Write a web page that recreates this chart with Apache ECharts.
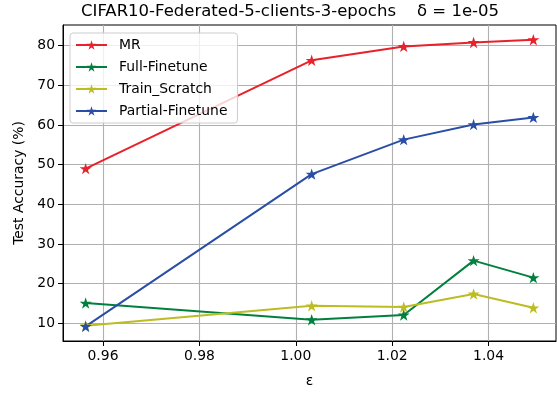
<!DOCTYPE html>
<html>
<head>
<meta charset="utf-8">
<script src="https://cdn.jsdelivr.net/npm/echarts@6/dist/echarts.min.js"></script>
<style>
  html, body { margin: 0; padding: 0; background: #fff; }
  #main { width: 557px; height: 393px; }
</style>
</head>
<body>
<div id="main"></div>
<script>
// data
var epsilon = [0.9564, 1.0033, 1.0224, 1.0369, 1.0493];
var mr = [49.0, 76.3, 79.8, 80.8, 81.5];
var fullFinetune = [15.1, 10.9, 12.1, 25.8, 21.5];
var trainScratch = [9.4, 14.4, 14.1, 17.4, 13.9];
var partialFinetune = [9.2, 47.6, 56.3, 60.1, 61.9];
var xTicks = [0.96, 0.98, 1.00, 1.02, 1.04];
var yTicks = [10, 20, 30, 40, 50, 60, 70, 80];

var star = 'path://M100 0 L122.45 69.1 L195.1 69.1 L136.3 111.8 L158.8 180.9 L100 138.2 L41.2 180.9 L63.7 111.8 L4.9 69.1 L77.55 69.1 Z';
var font = 'DejaVu Sans';

function pairs(xs, ys) {
  return xs.map(function (x, i) { return [x, ys[i]]; });
}

function makeSeries(name, color, ys) {
  return {
    name: name,
    type: 'line',
    data: pairs(epsilon, ys),
    symbol: star,
    symbolSize: 12,
    symbolKeepAspect: true,
    lineStyle: { color: color, width: 2 },
    itemStyle: { color: color },
    emphasis: { disabled: true },
    animation: false
  };
}

var chart = echarts.init(document.getElementById('main'));
var option = {
  animation: false,
  title: {
    text: 'CIFAR10-Federated-5-clients-3-epochs    δ = 1e-05',
    left: 81,
    top: 3,
    padding: 0,
    textStyle: { fontFamily: font, fontSize: 16.5, fontWeight: 'normal', color: '#000' }
  },
  grid: {
    left: 63, right: 1, top: 25, bottom: 47,
    show: true, borderColor: '#000', borderWidth: 1
  },
  legend: {
    orient: 'vertical',
    left: 70,
    top: 33,
    width: 160,
    padding: [5, 10, 5, 5],
    itemGap: 8,
    itemWidth: 31,
    itemHeight: 12,
    backgroundColor: 'rgba(255,255,255,0.8)',
    borderColor: '#cccccc',
    borderWidth: 1,
    borderRadius: 3,
    textStyle: { fontFamily: font, fontSize: 13.9, color: '#000', lineHeight: 14, padding: [0, 0, 0, 7] },
    data: ['MR', 'Full-Finetune', 'Train_Scratch', 'Partial-Finetune']
  },
  xAxis: {
    type: 'value',
    min: 0.9517,
    max: 1.0540,
    name: 'ε',
    nameLocation: 'middle',
    nameGap: 33,
    nameTextStyle: { fontFamily: font, fontSize: 13.9, color: '#000' },
    axisLine: { show: true, lineStyle: { color: '#000', width: 1 } },
    axisTick: { show: true, length: 5, customValues: xTicks, lineStyle: { color: '#000' } },
    axisLabel: {
      customValues: xTicks,
      margin: 8,
      fontFamily: font, fontSize: 13.9, color: '#000',
      formatter: function (v) { return v.toFixed(2); }
    },
    splitLine: { show: true, lineStyle: { color: '#b0b0b0', width: 1.1 } }
  },
  yAxis: {
    type: 'value',
    min: 5.53,
    max: 85.2,
    name: 'Test Accuracy (%)',
    nameLocation: 'middle',
    nameGap: 37,
    nameTextStyle: { fontFamily: font, fontSize: 13.9, color: '#000' },
    axisLine: { show: true, lineStyle: { color: '#000', width: 1 } },
    axisTick: { show: true, length: 5, customValues: yTicks, lineStyle: { color: '#000' } },
    axisLabel: {
      customValues: yTicks,
      margin: 8,
      fontFamily: font, fontSize: 13.9, color: '#000'
    },
    splitLine: { show: true, lineStyle: { color: '#b0b0b0', width: 1.1 } }
  },
  series: [
    makeSeries('MR', '#e8212b', mr),
    makeSeries('Full-Finetune', '#00803e', fullFinetune),
    makeSeries('Train_Scratch', '#bcbd22', trainScratch),
    makeSeries('Partial-Finetune', '#2a4ea6', partialFinetune)
  ]
};
chart.setOption(option);
</script>
</body>
</html>
